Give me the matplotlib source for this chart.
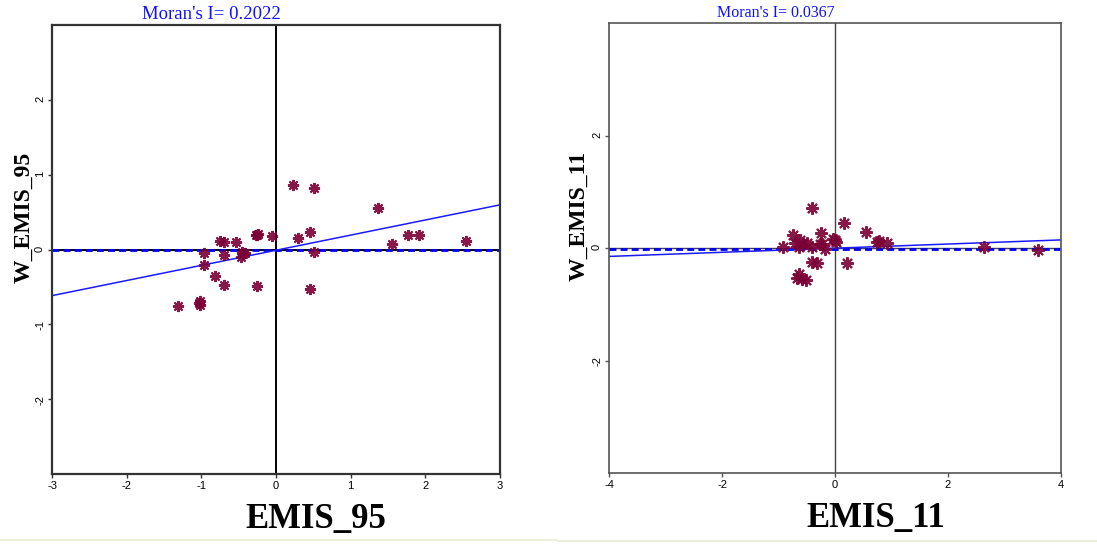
import numpy as np
import matplotlib.pyplot as plt
from matplotlib.lines import Line2D

plt.rcParams["axes.unicode_minus"] = False

# Moran scatter data, panel 1 (EMIS_95).
emis95 = [0.23, 0.51, 1.36, 1.77, 1.92, 2.54, 1.56, 0.45, 0.30, 0.51, 0.45,
          -0.05, -0.25, -0.27, -0.24, -0.54, -0.69, -0.75, -0.69, -0.97, -0.97,
          -0.82, -0.69, -0.25, -1.31, -1.02, -1.03, -1.02, -0.46, -0.41, -0.47, -0.44]
wEmis95 = [0.86, 0.82, 0.56, 0.20, 0.19, 0.11, 0.08, 0.23, 0.16, -0.04, -0.53,
           0.18, 0.19, 0.20, 0.21, 0.10, 0.10, 0.12, -0.07, -0.05, -0.21,
           -0.35, -0.48, -0.49, -0.75, -0.69, -0.72, -0.74, -0.03, -0.05, -0.10, -0.06]

# Moran scatter data, panel 2 (EMIS_11).
emis11 = [-0.41, 0.16, 0.55, -0.25, -0.75, 0.77, 0.92, 0.74, 0.00, 0.02, -0.04,
          -0.62, -0.70, -0.56, -0.50, -0.23, -0.17, -0.92, -0.40, -0.64, -0.26,
          -0.41, -0.32, 0.22, -0.64, -0.58, -0.52, -0.67, 2.64, 3.59]
wEmis11 = [0.72, 0.45, 0.28, 0.26, 0.23, 0.13, 0.09, 0.10, 0.15, 0.11, 0.16,
           0.15, 0.09, 0.08, 0.09, 0.08, -0.02, 0.02, 0.01, 0.01, 0.07,
           -0.24, -0.26, -0.26, -0.47, -0.55, -0.56, -0.53, 0.01, -0.03]

# Moran's I (slope) and intercept of the fitted line.
moran95, icpt95 = 0.2022, -0.01
moran11, icpt11 = 0.0367, -0.003

starColor = "#7a0035"
serif = "Liberation Serif"

fig = plt.figure(figsize=(10.97, 5.45), dpi=100)


def MoranPanel(rect, x, y, slope, icpt, lim, yticks, xlabel, ylabel,
               titleSize, titleX, yLabelX, frameColor, frameLw, crossColor,
               crossLw, ms):
  ax = fig.add_axes(rect)
  ax.set_xlim(-lim, lim)
  ax.set_ylim(-lim, lim)
  # Reference cross at the origin.
  ax.axvline(0, color=crossColor, lw=crossLw, zorder=1)
  ax.axhline(0, color=crossColor, lw=crossLw, zorder=1)
  ax.axhline(-0.012, color="#0000ee", lw=2.0, ls=(0, (2.5, 1.5)), zorder=2)
  # Fitted line with slope = Moran's I.
  xs = np.array([-lim, lim])
  ax.plot(xs, slope * xs + icpt, color="#1a1aff", lw=1.1, zorder=2)
  ax.plot(x, y, ls="none", marker=(8, 2, 0), ms=ms, mew=1.5,
          color=starColor, alpha=0.9, zorder=3)
  ax.set_xticks(np.arange(-lim, lim + 1, 1 if lim == 3 else 2))
  ax.set_yticks(yticks)
  ax.tick_params(axis="both", length=3, width=1, color=frameColor,
                 labelsize=8, pad=2)
  ax.tick_params(axis="y", labelrotation=90)
  for lab in ax.get_xticklabels() + ax.get_yticklabels():
    lab.set_family("Liberation Sans")
  for s in ax.spines.values():
    s.set_color(frameColor)
    s.set_linewidth(frameLw)
  ax.set_title(f"Moran's I= {slope:.4f}", color="#1010ff", family=serif,
               fontsize=titleSize, x=titleX, pad=4)
  ax.set_xlabel(xlabel, family=serif, fontweight="bold", fontsize=25)
  ax.xaxis.set_label_coords(0.59, -0.064)
  ax.set_ylabel(ylabel, family=serif, fontweight="bold", fontsize=17)
  ax.yaxis.set_label_coords(yLabelX, 0.572)
  return ax


MoranPanel([52 / 1097, 71 / 545, 448 / 1097, 449 / 545], emis95, wEmis95,
           moran95, icpt95, 3, [-2, -1, 0, 1, 2], "EMIS_95", "W_EMIS_95",
           13.5, 0.355, -0.04, "#333333", 1.6, "black", 1.4, 8)
MoranPanel([609 / 1097, 72 / 545, 452 / 1097, 450 / 545], emis11, wEmis11,
           moran11, icpt11, 4, [-2, 0, 2], "EMIS_11", "W_EMIS_11",
           11.5, 0.37, -0.044, "#555555", 1.2, "#444444", 1.0, 9)

# Faint rule along the bottom of the screenshot.
fig.add_artist(Line2D([0, 0.507], [5 / 545, 5 / 545], color="#eeeedd", lw=1.5))
fig.add_artist(Line2D([0.509, 1], [4 / 545, 4 / 545], color="#eeeedd", lw=1.5))

plt.savefig("out.png", dpi=100)
plt.close()
